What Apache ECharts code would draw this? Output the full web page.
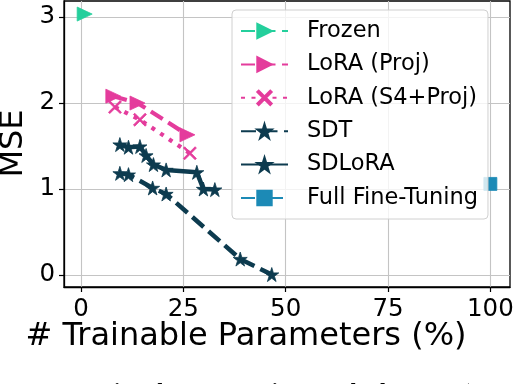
<!DOCTYPE html>
<html>
<head>
<meta charset="utf-8">
<script src="https://cdn.jsdelivr.net/npm/echarts@6/dist/echarts.min.js"></script>
<style>html,body{margin:0;padding:0;background:#fff;}#c{width:516px;height:384px;}</style>
</head>
<body>
<div id="c"></div>
<script>
// ---- data ----
const seriesNames = ['Frozen', 'LoRA (Proj)', 'LoRA (S4+Proj)', 'SDT', 'SDLoRA', 'Full Fine-Tuning'];
const xTicks = [0, 25, 50, 75, 100];
const yTicks = [0, 1, 2, 3];

const frozenX = [0.9];
const frozenY = [3.035];
const loraProjX = [7.9, 13.8, 26.0];
const loraProjY = [2.08, 2.0, 1.63];
const loraS4X = [8.3, 14.4, 26.6];
const loraS4Y = [1.953, 1.806, 1.416];
const sdtX = [9.5, 11.6, 17.5, 20.8, 38.9, 46.6];
const sdtY = [1.182, 1.167, 1.012, 0.942, 0.185, 0.005];
const sdloraX = [9.5, 11.6, 14.4, 15.9, 17.7, 20.8, 28.3, 29.9, 32.7];
const sdloraY = [1.517, 1.486, 1.494, 1.39, 1.284, 1.222, 1.194, 1.0, 0.993];
const fullX = [100];
const fullY = [1.059];

const xLabel = '# Trainable Parameters (%)';
const yLabel = 'MSE';

// ---- styling ----
const pair = (xs, ys) => xs.map((x, i) => [x, ys[i]]);
const STAR = 'path://M100 0 L122.45 69.1 L195.1 69.1 L136.3 111.8 L158.8 180.9 L100 138.2 L41.2 180.9 L63.7 111.8 L4.9 69.1 L77.55 69.1 Z';
const XMARK = 'path://M0 10 L10 0 L50 40 L90 0 L100 10 L60 50 L100 90 L90 100 L50 60 L10 100 L0 90 L40 50 Z';
const FONT = 'DejaVu Sans';
const cFrozen = '#24cf9c', cPink = '#e43c9c', cDark = '#0d3b4f', cFull = '#1c8ab6';

function mk(name, data, color, lineType, width, symbol, size, rotate) {
  return {
    name, type: 'line', data,
    symbol, symbolSize: size, symbolRotate: rotate || 0,
    showSymbol: true,
    lineStyle: { color, width, type: lineType, cap: 'butt' },
    itemStyle: { color, borderColor: color, borderWidth: 0.8 },
    emphasis: { disabled: true },
    z: 3
  };
}

const chart = echarts.init(document.getElementById('c'), null, { renderer: 'canvas' });
chart.setOption({
  animation: false,
  backgroundColor: '#fff',
  grid: { left: 64, right: 6, top: 1, bottom: 97, show: true, borderColor: '#000', borderWidth: 1.3, outerBoundsMode: 'none' },
  xAxis: {
    type: 'value', min: -4.15, max: 104.8,
    axisLine: { show: true, onZero: false, lineStyle: { color: '#000', width: 1.3 } },
    axisTick: { show: true, customValues: xTicks, length: 5, lineStyle: { color: '#000', width: 1.2 } },
    axisLabel: { customValues: xTicks, margin: 10, color: '#000', fontFamily: FONT, fontSize: 24.5 },
    splitLine: { show: true, lineStyle: { color: '#c4c4c4', width: 1.1 } }
  },
  yAxis: {
    type: 'value', min: -0.14, max: 3.187,
    axisLine: { show: true, onZero: false, lineStyle: { color: '#000', width: 1.3 } },
    axisTick: { show: true, customValues: yTicks, length: 5, lineStyle: { color: '#000', width: 1.2 } },
    axisLabel: { customValues: yTicks, margin: 9, color: '#000', fontFamily: FONT, fontSize: 24.5 },
    splitLine: { show: true, lineStyle: { color: '#c4c4c4', width: 1.1 } }
  },
  legend: {
    orient: 'vertical', left: 232, top: 10,
    data: seriesNames,
    itemWidth: 47, itemHeight: 18, itemGap: 10.4,
    padding: [9.5, 10, 9.5, 8],
    backgroundColor: 'rgba(255,255,255,0.8)', borderColor: '#d0d0d0', borderWidth: 1, borderRadius: 4,
    textStyle: { color: '#000', fontFamily: FONT, fontSize: 22.5, padding: [0, 0, 0, 14] },
    selectedMode: false
  },
  graphic: [
    { type: 'text', x: 246, y: 337, style: { text: xLabel, fontFamily: FONT, fontSize: 32, fill: '#000', align: 'center', verticalAlign: 'middle' } },
    { type: 'text', x: 14, y: 143.5, rotation: Math.PI / 2, style: { text: yLabel, fontFamily: FONT, fontSize: 32, fill: '#000', align: 'center', verticalAlign: 'middle' } },
    { type: 'text', x: 400, y: 392, style: { text: 'comparison between various methods.', fontFamily: 'Liberation Serif', fontWeight: 'bold', fontSize: 22, fill: '#000', align: 'right', verticalAlign: 'middle' } },
    { type: 'text', x: 414, y: 392, style: { text: 'SDT (S4', fontFamily: 'Liberation Serif', fontWeight: 'bold', fontSize: 22, fill: '#000', align: 'left', verticalAlign: 'middle' } }
  ],
  series: [
    mk(seriesNames[0], pair(frozenX, frozenY), cFrozen, [14, 6.5], 4, 'triangle', [14, 15], -90),
    mk(seriesNames[1], pair(loraProjX, loraProjY), cPink, [14, 6.5], 4.2, 'triangle', [14, 15], -90),
    mk(seriesNames[2], pair(loraS4X, loraS4Y), cPink, [4, 6.5], 4.2, XMARK, 13),
    mk(seriesNames[3], pair(sdtX, sdtY), cDark, [15, 6.5], 4.5, STAR, 14),
    mk(seriesNames[4], pair(sdloraX, sdloraY), cDark, 'solid', 4.5, STAR, 14),
    mk(seriesNames[5], pair(fullX, fullY), cFull, [14, 5, 4, 5], 4, 'rect', 13)
  ]
});
</script>
</body>
</html>
